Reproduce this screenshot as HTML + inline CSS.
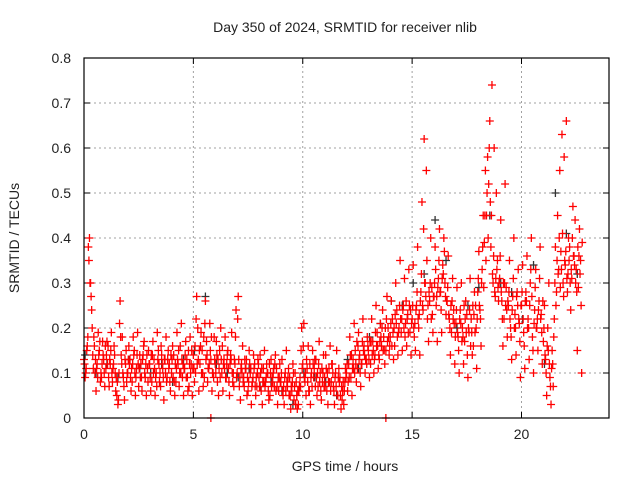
<!DOCTYPE html>
<html><head><meta charset="utf-8"><style>
html,body{margin:0;padding:0;background:#fff;}
svg{display:block;font-family:"Liberation Sans",sans-serif;}
</style></head><body>
<svg id="chart" width="640" height="480" viewBox="0 0 640 480" xmlns="http://www.w3.org/2000/svg">
<text x="345" y="32" font-size="14" text-anchor="middle" fill="#222">Day 350 of 2024, SRMTID for receiver nlib</text>
<text transform="translate(19,238) rotate(-90)" font-size="14" text-anchor="middle" fill="#222">SRMTID / TECUs</text>
<text x="345" y="471" font-size="14" text-anchor="middle" fill="#222">GPS time / hours</text>
<g id="grid"></g>
<g id="ticks"></g>
<g id="marks"></g>
<rect x="84" y="58" width="525" height="360" fill="none" stroke="#000" stroke-width="1.2"/>
</svg>
<script>
const xTicks=[0,5,10,15,20];
const yTicks=[0,0.1,0.2,0.3,0.4,0.5,0.6,0.7,0.8];
const yTickLabels=["0","0.1","0.2","0.3","0.4","0.5","0.6","0.7","0.8"];
const redA=[.13,.11,.38,.30,.14,.10,.12,.15,.09,.13,
.11,.16,.12,.08,.14,.05,.10,.14,.09,.12,
.10,.13,.08,.15,.11,.07,.12,.14,.09,.11,
.12,.08,.13,.10,.15,.07,.11,.13,.09,.12,
.10,.14,.08,.12,.16,.09,.11,.13,.07,.12,
.14,.10,.20,.12,.15,.09,.17,.11,.13,.10,
.12,.08,.15,.10,.13,.09,.11,.14,.08,.12,
.10,.07,.12,.09,.11,.06,.10,.08,.12,.07,
.09,.06,.11,.08,.10,.05,.09,.07,.11,.06,
.08,.05,.10,.07,.09,.06,.04,.08,.03,.07,
.12,.08,.11,.06,.10,.09,.13,.07,.10,.08,
.09,.06,.11,.08,.07,.10,.05,.09,.04,.06,
.10,.12,.09,.13,.15,.11,.14,.12,.16,.13,
.15,.12,.17,.14,.19,.13,.16,.18,.15,.20,
.18,.22,.16,.24,.20,.19,.25,.21,.23,.19,
.22,.18,.25,.20,.28,.24,.30,.22,.26,.29,
.27,.25,.31,.28,.34,.30,.26,.22,.19,.24,
.21,.18,.24,.20,.17,.23,.19,.22,.16,.25,
.28,.24,.33,.39,.45,.52,.38,.30,.27,.35,
.31,.26,.22,.29,.25,.20,.27,.23,.28,.21,
.25,.19,.28,.22,.30,.18,.24,.20,.26,.23,
.17,.13,.20,.09,.15,.22,.28,.33,.37,.30,
.34,.28,.38,.31,.36,.33,.29,.35];
const redB=[.09,.16,.40,.24,.18,.06,.19,.08,.17,.07,
.17,.07,.19,.12,.06,.03,.26,.18,.04,.08,
.16,.06,.18,.05,.19,.14,.06,.17,.05,.15,
.06,.17,.05,.19,.08,.14,.04,.18,.15,.06,
.16,.05,.19,.07,.21,.05,.17,.06,.18,.05,
.08,.27,.06,.19,.07,.26,.08,.21,.06,.18,
.17,.05,.20,.06,.18,.14,.05,.19,.07,.24,
.27,.04,.16,.13,.05,.15,.03,.14,.05,.13,
.14,.03,.15,.12,.04,.13,.10,.14,.03,.12,
.13,.03,.15,.11,.02,.12,.10,.02,.07,.20,
.21,.05,.16,.03,.15,.13,.05,.17,.04,.14,
.14,.03,.16,.12,.03,.15,.11,.02,.08,.11,
.06,.18,.05,.21,.08,.19,.07,.22,.10,.18,
.09,.22,.10,.25,.11,.21,.24,.12,.27,.14,
.26,.13,.30,.14,.35,.15,.31,.16,.33,.14,
.34,.15,.38,.14,.48,.62,.55,.17,.40,.19,
.38,.17,.42,.19,.40,.23,.36,.14,.31,.12,
.29,.10,.30,.12,.26,.09,.31,.14,.28,.11,
.37,.16,.45,.55,.58,.66,.74,.60,.50,.26,
.44,.16,.52,.18,.35,.13,.40,.14,.33,.09,
.34,.11,.36,.13,.40,.10,.33,.15,.38,.12,
.25,.05,.30,.03,.07,.38,.45,.55,.63,.58,
.66,.40,.24,.47,.44,.15,.42,.10];
const redC=[.12,.15,.35,.27,.11,.13,.09,.17,.12,.10,
.14,.09,.15,.11,.10,.08,.21,.12,.07,.15,
.13,.09,.12,.10,.14,.11,.09,.16,.12,.08,
.09,.14,.11,.07,.12,.16,.09,.10,.13,.08,
.13,.08,.11,.15,.10,.12,.14,.09,.12,.15,
.11,.22,.13,.16,.10,.21,.14,.12,.18,.09,
.10,.13,.09,.16,.11,.12,.08,.13,.10,.18,
.22,.09,.10,.07,.13,.08,.11,.09,.07,.10,
.07,.11,.08,.09,.06,.10,.08,.12,.07,.09,
.10,.07,.06,.09,.05,.08,.07,.05,.06,.15,
.16,.10,.08,.12,.07,.11,.09,.12,.06,.10,
.07,.10,.08,.12,.06,.07,.09,.05,.06,.08,
.12,.09,.14,.11,.12,.16,.10,.17,.14,.12,
.13,.17,.15,.19,.16,.17,.20,.15,.22,.18,
.21,.19,.23,.18,.25,.22,.20,.26,.19,.24,
.25,.21,.28,.23,.32,.42,.27,.25,.30,.23,
.30,.27,.35,.24,.32,.27,.29,.20,.26,.21,
.24,.15,.21,.18,.22,.14,.24,.19,.23,.20,
.31,.22,.38,.45,.50,.60,.45,.36,.31,.29,
.36,.22,.30,.24,.28,.18,.31,.20,.25,.17,
.28,.16,.26,.20,.33,.15,.29,.22,.31,.19,
.20,.10,.15,.07,.12,.30,.35,.40,.33,.27,
.37,.32,.30,.40,.34,.28,.36,.25];
const redD=[.10,.18,.30,.20,.16,.11,.14,.10,.14,.16,
.12,.13,.10,.16,.09,.04,.18,.10,.13,.10,
.12,.11,.14,.09,.12,.09,.13,.10,.14,.12,
.14,.10,.09,.13,.10,.12,.13,.08,.11,.14,
.09,.12,.13,.10,.13,.11,.09,.15,.10,.11,
.16,.12,.15,.10,.18,.13,.11,.15,.10,.13,
.14,.11,.13,.12,.09,.15,.12,.10,.13,.09,
.13,.11,.08,.11,.09,.12,.07,.11,.09,.12,
.10,.08,.07,.10,.12,.07,.11,.06,.09,.08,
.06,.09,.08,.05,.07,.10,.03,.06,.09,.11,
.09,.13,.06,.09,.12,.07,.10,.08,.11,.07,
.11,.08,.06,.10,.09,.05,.08,.07,.03,.09,
.08,.14,.11,.10,.17,.13,.12,.15,.13,.16,
.17,.14,.13,.16,.14,.18,.15,.20,.17,.16,
.16,.20,.21,.19,.22,.24,.18,.22,.25,.21,
.20,.24,.22,.26,.25,.30,.35,.28,.22,.27,
.33,.29,.28,.31,.37,.26,.23,.25,.22,.18,
.19,.22,.17,.25,.19,.20,.16,.25,.19,.22,
.25,.30,.29,.35,.40,.48,.32,.28,.33,.30,
.28,.30,.25,.26,.22,.24,.20,.27,.22,.25,
.22,.26,.20,.25,.27,.21,.20,.24,.22,.26,
.14,.16,.12,.11,.18,.25,.32,.29,.41,.35,
.31,.35,.33,.36,.30,.38,.32,.39];
const blackVals=[.14,.10,.12,.09,.13,.11,.10,.12,.08,.13,.15,.27,.12,.10,.09,.11,.07,.08,.06,.03,.10,.09,.08,.05,.13,.11,.18,.21,.26,.25,.30,.32,.44,.35,.20,.25,.29,.45,.30,.28,.22,.34,.12,.50,.41,.32];
const zeroTimes=[5.8,13.8];
const stepA=0.1, stepK=0.5;

const X0=84,X1=609,Y0=418,Y1=58,XMAX=24,YMAX=0.8;
const xs=v=>X0+(X1-X0)*v/XMAX;
const ys=v=>Y0-(Y0-Y1)*v/YMAX;
const NS="http://www.w3.org/2000/svg";
const grid=document.getElementById('grid'),ticks=document.getElementById('ticks'),marks=document.getElementById('marks');
function mk(t,a,p){const e=document.createElementNS(NS,t);for(const k in a)e.setAttribute(k,a[k]);p.appendChild(e);return e;}
xTicks.forEach(v=>{
 const x=xs(v);
 if(v>0){const g=mk('line',{x1:x,x2:x,y1:Y0,y2:Y1,stroke:'#a0a0a0','stroke-dasharray':'2,3'},grid);
 
 }
 mk('line',{x1:x,x2:x,y1:Y0,y2:Y0-6,stroke:'#000'},ticks);
 mk('line',{x1:x,x2:x,y1:Y1,y2:Y1+6,stroke:'#000'},ticks);
 const t=mk('text',{x:x,y:Y0+21,'font-size':14,'text-anchor':'middle',fill:'#222'},ticks);
 t.textContent=v;
 
 
});
yTicks.forEach((v,i)=>{
 const y=ys(v);
 if(v>0&&v<YMAX){const g=mk('line',{x1:X0,x2:X1,y1:y,y2:y,stroke:'#a0a0a0','stroke-dasharray':'2,3'},grid);
 
 }
 mk('line',{x1:X0,x2:X0+6,y1:y,y2:y,stroke:'#000'},ticks);
 mk('line',{x1:X1,x2:X1-6,y1:y,y2:y,stroke:'#000'},ticks);
 const t=mk('text',{x:X0-13,y:y+5,'font-size':14,'text-anchor':'end',fill:'#222'},ticks);
 t.textContent=yTickLabels[i];
 
 
});
function plus(t,v,c){
 const x=xs(t),y=ys(v);
 const p=mk('path',{d:`M${x-4},${y}H${x+4}M${x},${y-4}V${y+4}`,stroke:c,'stroke-width':1.3,fill:'none'},marks);
 
 
}
blackVals.forEach((v,i)=>plus(i*stepK+0.05,v,'#333'));
redA.forEach((v,i)=>plus(i*stepA,v,'#f00'));
redC.forEach((v,i)=>plus(i*stepA+0.025,v,'#f00'));
redB.forEach((v,i)=>plus(i*stepA+0.05,v,'#f00'));
redD.forEach((v,i)=>plus(i*stepA+0.075,v,'#f00'));
zeroTimes.forEach(t=>plus(t,0,'#f00'));
</script>
</body></html>
